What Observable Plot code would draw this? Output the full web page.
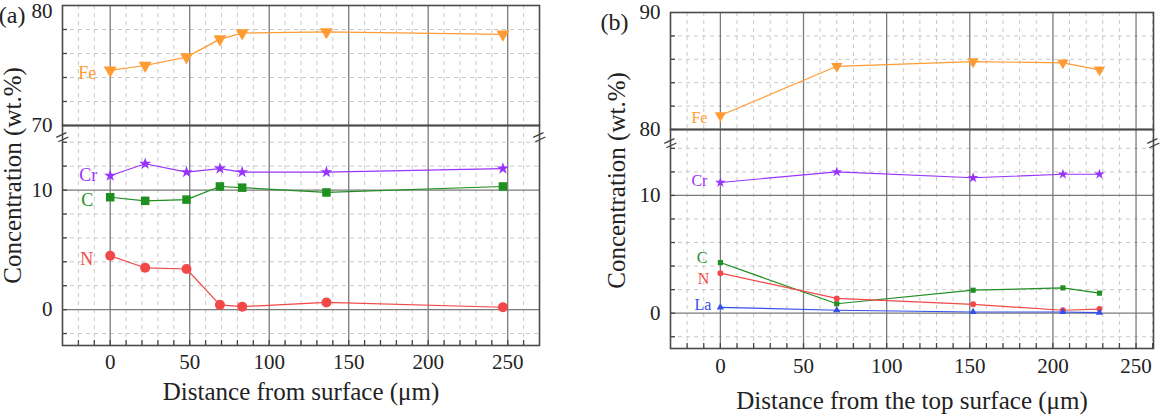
<!DOCTYPE html>
<html><head><meta charset="utf-8">
<script src="https://cdn.jsdelivr.net/npm/d3@7"></script>
<script src="https://cdn.jsdelivr.net/npm/@observablehq/plot@0.6"></script>
<style>
body{margin:0;background:#fff;}
#wrap{display:flex;width:1165px;height:415px;overflow:hidden;}
.panel{position:relative;height:415px;}
.panel svg{position:absolute;left:0;top:0;}
</style></head><body><div id="wrap"></div>
<script>
// ---- Panel (a) data ----
const xA = [0, 22, 48, 69, 83, 136, 247];
const feA = [74.6, 75.0, 75.7, 77.2, 77.7, 77.8, 77.6];
const crA = [11.2, 12.2, 11.5, 11.8, 11.5, 11.5, 11.8];
const cA  = [9.4, 9.1, 9.2, 10.3, 10.2, 9.8, 10.3];
const nA  = [4.5, 3.5, 3.4, 0.4, 0.25, 0.6, 0.2];
// ---- Panel (b) data ----
const xB = [0, 70, 152, 206, 228];
const feB = [81.2, 85.4, 85.8, 85.7, 85.1];
const crB = [11.1, 12.0, 11.5, 11.8, 11.8];
const cB  = [4.3, 0.8, 1.95, 2.15, 1.7];
const nB  = [3.4, 1.25, 0.75, 0.25, 0.35];
const laB = [0.5, 0.25, 0.1, 0.1, 0.05];
// ---- ticks ----
const xTicks = [0, 50, 100, 150, 200, 250];
const yTicksA = [0, 10, 70, 80];
const yTicksB = [0, 10, 80, 90];
const colors = {Fe: "#ff9b33", Cr: "#9933ff", C: "#1f8f1f", N: "#f24848", La: "#3350ee"};
const symbols = {Fe: "triangle", Cr: "star", C: "square", N: "circle", La: "triangle"};

const FONT = "'Liberation Serif','Times New Roman',serif";
const TXT = "#222";

function segment(cfg, part) {
  const {width, height, xDomain, xs, series, sizes, yTicks, labelFont, labelOffsets} = cfg;
  const upper = part === "upper";
  const yDomain = upper ? cfg.upDomain : cfg.lowDomain;
  const mT = upper ? cfg.mT : cfg.yBreak;
  const mB = upper ? height - cfg.yBreak : cfg.mB;
  const [x0, x1] = xDomain;
  const [y0, y1] = yDomain;
  const inSeg = v => v >= y0 - 1e-9 && v <= y1 + 1e-9;
  const segSeries = series.filter(([el, vals]) => vals.every(inSeg));
  const rows = [];
  for (const [el, vals] of segSeries) vals.forEach((v, i) => rows.push({el, x: xs[i], y: v}));
  const first = segSeries.map(([el, vals]) => ({el, x: xs[0], y: vals[0]}));
  const yMinor = d3.range(Math.ceil(y0 / 2) * 2, y1, 2).filter(v => v % 10 !== 0 && v > y0);
  const yMajor = yTicks.filter(v => inSeg(v) && v < cfg.upDomain[1]);
  const xMinor = d3.range(Math.ceil(x0 / 10) * 10, x1, 10).filter(v => v % 50 !== 0 && v > x0);
  const xAll = d3.range(Math.ceil(x0 / 10) * 10, x1, 10).filter(v => v > x0);
  const segTicks = yTicks.filter(inSeg);

  const marks = [
    Plot.ruleY(yMinor, {y: d => d, stroke: "#c8c8c8", strokeWidth: 1, strokeDasharray: "4,4"}),
    Plot.ruleX(xMinor, {x: d => d, stroke: "#c8c8c8", strokeWidth: 1, strokeDasharray: "4,4"}),
    Plot.ruleX(xTicks.filter(v => v < x1), {x: d => d, stroke: "#7a7a7a", strokeWidth: 1.3}),
    Plot.ruleY(yMajor, {y: d => d, stroke: "#7a7a7a", strokeWidth: 1.3}),
    Plot.ruleY([...yMinor, ...yMajor], {y: d => d, x1: x0, x2: x0, insetRight: -5, stroke: "#444", strokeWidth: 1.3}),
    Plot.frame({stroke: "#4a4a4a", strokeWidth: 1.6}),
    Plot.line(rows, {x: "x", y: "y", z: "el", stroke: d => colors[d.el], strokeWidth: 1.2})
  ];
  for (const [el] of segSeries) {
    marks.push(Plot.dot(rows.filter(d => d.el === el), {
      x: "x", y: "y", symbol: () => symbols[el], r: sizes[el], fill: colors[el], stroke: "none",
      rotate: el === "Fe" ? 180 : 0
    }));
  }
  for (const f of first) {
    const [dx, dy] = labelOffsets[f.el];
    marks.push(Plot.text([f], {x: "x", y: "y", text: "el", fill: colors[f.el], textAnchor: "end",
      dx, dy, fontSize: labelFont, fontFamily: FONT}));
  }
  // y tick labels (the topmost one nudged down so it stays inside the picture)
  marks.push(Plot.axisY(segTicks.filter(v => v < cfg.upDomain[1]), {tickSize: 0, tickPadding: 10, fontSize: 21, fontFamily: FONT, fill: TXT, label: null}));
  if (upper) {
    marks.push(
      Plot.axisY(segTicks.filter(v => v >= cfg.upDomain[1]), {tickSize: 0, tickPadding: 10, dy: cfg.topTickDy, fontSize: 21, fontFamily: FONT, fill: TXT, label: null}),
      Plot.text([cfg.label], {frameAnchor: "top-left", dx: cfg.labelDx, dy: cfg.labelDy, text: d => d, fontSize: 24, fontFamily: FONT, fill: TXT, textAnchor: "end", lineAnchor: "middle"})
    );
  } else {
    const midShift = (cfg.mT + height - cfg.mB) / 2 - (cfg.yBreak + height - cfg.mB) / 2;
    marks.push(
      Plot.ruleX(xAll, {x: d => d, y1: y0, y2: y0, insetTop: -5, stroke: "#444", strokeWidth: 1.3}),
      Plot.axisX(xTicks, {tickSize: 0, tickPadding: cfg.xPad, fontSize: 21, fontFamily: FONT, fill: TXT, label: null}),
      Plot.text([cfg.xTitle], {frameAnchor: "bottom", dy: cfg.xTitleDy, text: d => d, fontSize: 25, fontFamily: FONT, fill: TXT, lineAnchor: "middle"}),
      Plot.text(["Concentration (wt.%)"], {frameAnchor: "left", dx: cfg.yTitleDx, dy: midShift, rotate: -90, text: d => d, fontSize: 25, fontFamily: FONT, fill: TXT, textAnchor: "middle", lineAnchor: "middle"}),
      Plot.text([x0, x1], {x: d => d, y: y1, dy: cfg.breakDy, text: () => "=", rotate: -25, fontSize: 24, fontFamily: FONT, fill: "#444", lineAnchor: "middle"})
    );
  }
  return Plot.plot({
    width, height, marginLeft: cfg.mL, marginRight: cfg.mR, marginTop: mT, marginBottom: mB,
    style: {fontFamily: FONT, background: "transparent", overflow: "visible"},
    x: {domain: xDomain, axis: upper ? null : undefined},
    y: {domain: yDomain},
    marks
  });
}

function panel(cfg) {
  const div = document.createElement("div");
  div.className = "panel";
  div.style.width = cfg.width + "px";
  div.appendChild(segment(cfg, "lower"));
  div.appendChild(segment(cfg, "upper"));
  return div;
}

const wrap = document.getElementById("wrap");
wrap.appendChild(panel({
  width: 580, height: 415, mL: 62, mR: 41, mT: 5, mB: 70, yBreak: 125,
  xDomain: [-30, 270], upDomain: [70, 80], lowDomain: [-3, 15.4],
  yTicks: yTicksA, xs: xA, topTickDy: 6,
  series: [["Fe", feA], ["Cr", crA], ["C", cA], ["N", nA]],
  sizes: {Fe: 4.8, Cr: 3.8, C: 4.8, N: 5},
  label: "(a)", labelDx: -37, labelDy: 10,
  xTitle: "Distance from surface (\u03bcm)", xPad: 9, xTitleDy: 46,
  breakDy: 12, yTitleDx: -50, labelFont: 18,
  labelOffsets: {Fe: [-14, 3], Cr: [-13, 0], C: [-17, 3], N: [-17, 3]}
}));
wrap.appendChild(panel({
  width: 585, height: 415, mL: 90, mR: 12, mT: 12, mB: 67, yBreak: 129,
  xDomain: [-30, 260.5], upDomain: [80, 90], lowDomain: [-3, 15.6],
  yTicks: yTicksB, xs: xB, topTickDy: 0,
  series: [["Fe", feB], ["Cr", crB], ["C", cB], ["N", nB], ["La", laB]],
  sizes: {Fe: 4.2, Cr: 3.3, C: 2.9, N: 3, La: 2.7},
  label: "(b)", labelDx: -42, labelDy: 10,
  xTitle: "Distance from the top surface (\u03bcm)", xPad: 10, xTitleDy: 52,
  breakDy: 14, yTitleDx: -54, labelFont: 16,
  labelOffsets: {Fe: [-13, 2], Cr: [-13, -2], C: [-13, -5], N: [-11, 6], La: [-9, -2]}
}));
</script></body></html>
